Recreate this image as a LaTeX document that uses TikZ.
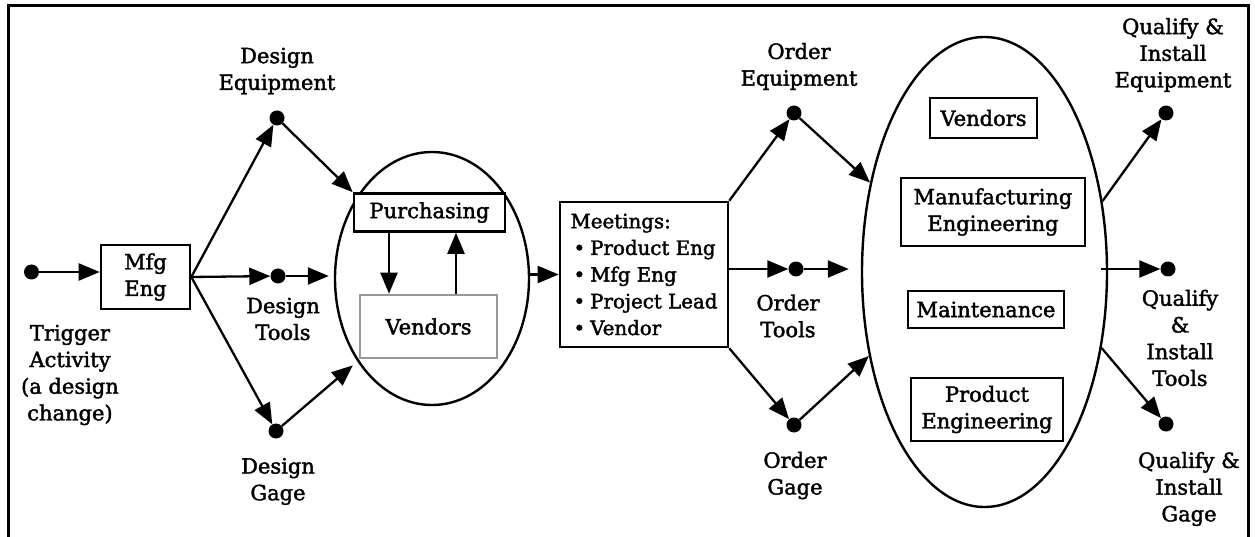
\documentclass[tikz,border=0pt]{standalone}
\usepackage{fontspec}
\setmainfont{DejaVu Serif}[FakeBold=1.8]
\newfontfamily\labelfont{DejaVu Serif}[FakeBold=1.8]
\usetikzlibrary{arrows.meta,shapes.geometric}
\begin{document}
\begin{tikzpicture}[x=1pt,y=-1pt,
  every node/.style={font=\labelfont\fontsize{21}{26.7}\selectfont},
  box/.style={draw,fill=white,line width=2.6pt,inner sep=0pt,align=center},
  graybox/.style={box,draw=black!40},
  oval/.style={draw,ellipse,line width=2.4pt,inner sep=0pt},
  dot/.style={circle,fill,inner sep=0pt,minimum size=15pt},
  lbl/.style={align=center,inner sep=0pt},
  arr/.style={line width=2.3pt,-{Triangle[length=21pt,width=17pt]}}]
\useasboundingbox (0,0) rectangle (1255,537);

% outer frame
\draw[line width=3pt] (8,545) -- (8,6) -- (1248,6) -- (1248,545);

% ovals
\node[oval,minimum width=194pt,minimum height=253pt] (e1) at (432,278.5) {};
\node[oval,minimum width=245pt,minimum height=470pt] (e2) at (984.5,272) {};

% boxes
\node[box,minimum width=89pt,minimum height=64pt] (mfg) at (145.5,277) {Mfg\\Eng};
\node[box,minimum width=151pt,minimum height=38pt] (purch) at (429.5,212.5) {Purchasing};
\node[graybox,minimum width=137pt,minimum height=63pt] (vend1) at (428.5,326.5) {Vendors};
\node[box,minimum width=168pt,minimum height=145pt,align=left,
      font=\labelfont\fontsize{19.8}{26.7}\selectfont] (meet) at (644,274.5)
  {Meetings:\\\hspace*{3pt}•\hspace{5pt}Product Eng\\\hspace*{3pt}•\hspace{5pt}Mfg Eng\\
   \hspace*{3pt}•\hspace{5pt}Project Lead\\\hspace*{3pt}•\hspace{5pt}Vendor};
\node[box,minimum width=107pt,minimum height=40pt] (rvend) at (983.5,118) {Vendors};
\node[box,minimum width=184pt,minimum height=68pt] (rmfg) at (993,212) {Manufacturing\\Engineering};
\node[box,minimum width=156pt,minimum height=37pt] (rmaint) at (986,309.5) {Maintenance};
\node[box,minimum width=152pt,minimum height=63pt] (rprod) at (987,409.5) {Product\\Engineering};

% activity dots
\node[dot] (trig) at (31.5,272) {};
\node[dot] (dequip) at (277,118) {};
\node[dot] (dtools) at (278,276) {};
\node[dot] (dgage) at (276,431) {};
\node[dot] (oequip) at (794,113) {};
\node[dot] (otools) at (796,269) {};
\node[dot] (ogage) at (794,425) {};
\node[dot] (qequip) at (1166,113) {};
\node[dot] (qtools) at (1168,269) {};
\node[dot] (qgage) at (1166,424) {};

% labels
\node[lbl] (trigL) at (70,375) {Trigger\\Activity\\(a design\\change)};
\node[lbl] (dequipL) at (277,71) {Design\\Equipment};
\node[lbl] (dtoolsL) at (283,319) {Design\\Tools};
\node[lbl] (dgageL) at (278,481.5) {Design\\Gage};
\node[lbl] (oequipL) at (799,66.5) {Order\\Equipment};
\node[lbl] (otoolsL) at (788,316) {Order\\Tools};
\node[lbl] (ogageL) at (795,475.5) {Order\\Gage};
\node[lbl] (qequipL) at (1173,55) {Qualify \&\\Install\\Equipment};
\node[lbl] (qtoolsL) at (1180,338) {Qualify\\\&\\Install\\Tools};
\node[lbl] (qgageL) at (1189,489) {Qualify \&\\Install\\Gage};

% connectors: design stage
\draw[arr] (trig) -- (trig -| mfg.west);
\draw[arr] (mfg.east) -- (dequip);
\draw[arr] (mfg.east) -- (dtools);
\draw[arr] (mfg.east) -- (dgage);
\draw[arr] (dequip) -- (purch.north west);
\draw[arr,shorten >=5pt] (dtools) -- (dtools -| e1.west);
\draw[arr,shorten >=6pt] (dgage) -- (e1.228);
\draw[arr] ([xshift=-40.5pt]purch.south) -- ([xshift=-40.5pt]purch.south |- vend1.north);
\draw[arr] ([xshift=27.5pt]vend1.north) -- ([xshift=27.5pt]vend1.north |- purch.south);
\draw[arr] (e1.east |- meet.west) -- (meet.west);

% connectors: ordering stage
\draw[arr] (meet.north east) -- (oequip);
\draw[arr] (meet.east |- otools) -- (otools);
\draw[arr] (meet.south east) -- (ogage);
\draw[arr] (oequip) -- (e2.142);
\draw[arr,shorten >=12pt] (otools) -- (otools -| e2.west);
\draw[arr] (ogage) -- (e2.216);

% connectors: qualification stage
\draw[arr] (e2.31) -- (qequip);
\draw[arr] ([xshift=-7pt]e2.east |- qtools) -- (qtools);
\draw[arr] (e2.327) -- (qgage);
\end{tikzpicture}
\end{document}
